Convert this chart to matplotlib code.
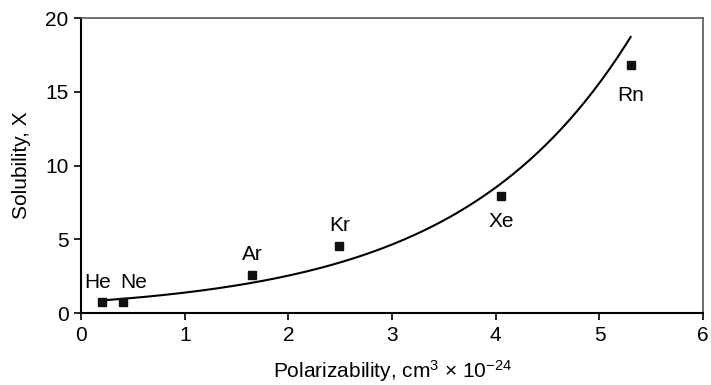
import numpy as np
import matplotlib.pyplot as plt

plt.rcParams["font.family"] = ["Liberation Sans", "DejaVu Sans"]
plt.rcParams["mathtext.fontset"] = "custom"
plt.rcParams["mathtext.rm"] = "Liberation Sans"
plt.rcParams["mathtext.it"] = "Liberation Sans"

gases = ['He', 'Ne', 'Ar', 'Kr', 'Xe', 'Rn']
polarizability = [0.20, 0.40, 1.65, 2.49, 4.05, 5.30]
solubility = [0.78, 0.78, 2.55, 4.55, 7.95, 16.8]
# label offsets in points (dx, dy)
label_offsets = [(-3, 7), (8, 7), (0, 8), (0, 8), (0, -12), (0, -15)]

# exponential trendline fitted to the points
b, ln_a = np.polyfit(polarizability, np.log(solubility), 1)
xs = np.linspace(min(polarizability), max(polarizability), 200)
ys = np.exp(ln_a) * np.exp(b * xs)

fig = plt.figure(figsize=(7.11, 3.85), dpi=100)
ax = fig.add_axes([0.114, 0.187, 0.875, 0.766])

ax.plot(xs, ys, color='black', lw=1.5)
ax.plot(polarizability, solubility, 's', color='#111111', ms=6)
for g, x, y, (dx, dy) in zip(gases, polarizability, solubility, label_offsets):
    ax.annotate(g, (x, y), xytext=(dx, dy), textcoords='offset points',
                ha='center', va='bottom' if dy > 0 else 'top', fontsize=15)

ax.set_xlim(0, 6)
ax.set_ylim(0, 20)
ax.set_xticks(range(0, 7))
ax.set_yticks(range(0, 21, 5))
ax.tick_params(labelsize=15, length=5, width=1.2, direction='out', pad=4)
for s in ['left', 'bottom']:
    ax.spines[s].set_linewidth(1.5)
    ax.spines[s].set_color('black')
for s in ['top', 'right']:
    ax.spines[s].set_linewidth(1.2)
    ax.spines[s].set_color('#555555')
ax.set_xlabel('Polarizability, cm$^3$ $\\times$ 10$^{-24}$', fontsize=15, labelpad=10)
ax.set_ylabel('Solubility, X', fontsize=15, labelpad=10)

fig.savefig('out.png', dpi=100)
